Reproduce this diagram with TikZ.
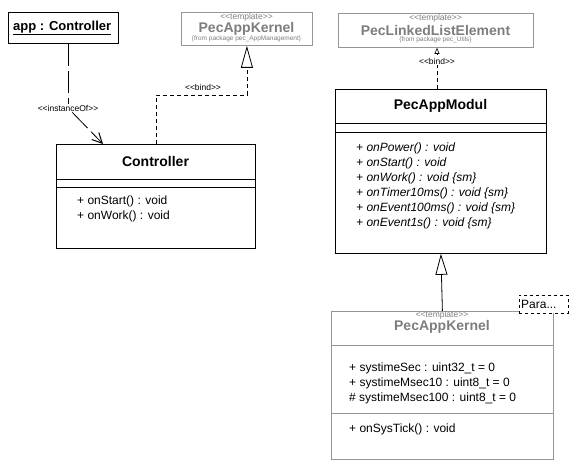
\documentclass[tikz,border=0pt]{standalone}
\usepackage{fontspec}
\setmainfont{Liberation Sans}
\usetikzlibrary{arrows.meta}
\definecolor{tplgray}{RGB}{125,125,125}
\definecolor{tplline}{RGB}{150,150,150}
\newcommand\stereotxt[1]{<{}<#1>{}>}
\tikzset{
  classbox/.style={draw,line width=0.8pt,anchor=north west,inner sep=0pt},
  tplbox/.style={classbox,draw=tplline},
  clsname/.style={inner sep=0pt,font=\fontsize{14}{16}\selectfont\bfseries},
  stereo/.style={inner sep=0pt,text=tplgray,font=\fontsize{8.5}{10}\selectfont},
  frompkg/.style={inner sep=0pt,text=tplgray,font=\fontsize{6.5}{8}\selectfont},
  member/.style={anchor=base west,inner sep=0pt,font=\fontsize{12}{14}\selectfont},
  conlabel/.style={inner sep=1pt,fill=white,font=\fontsize{8.5}{10}\selectfont},
  bindline/.style={line width=0.8pt,dash pattern=on 4pt off 3pt},
  instline/.style={line width=0.8pt,dash pattern=on 22pt off 5pt},
}
\begin{document}
\begin{tikzpicture}[x=1pt,y=-1pt]
  \useasboundingbox (0,0) rectangle (576,470);

  % object app
  \node[classbox,minimum width=110,minimum height=31] (app) at (8,12) {};
  \node[clsname,anchor=west,font=\fontsize{13}{15}\selectfont\bfseries] (appname) at (13,28) {\underline{app : Controller}};

  % template PecAppKernel (top)
  \node[tplbox,minimum width=131,minimum height=33] (topk) at (181,12) {};
  \node[stereo] (topkst) at (246.5,17) {\stereotxt{template}};
  \node[clsname,text=tplgray] (topkname) at (246.5,29) {PecAppKernel};
  \node[frompkg] (topkpkg) at (246.5,39) {\{from package pec\_AppManagement\}};

  % template PecLinkedListElement
  \node[tplbox,minimum width=195,minimum height=34] (llist) at (338,13) {};
  \node[stereo] (llistst) at (435.5,18) {\stereotxt{template}};
  \node[clsname,text=tplgray] (llistname) at (435.5,30) {PecLinkedListElement};
  \node[frompkg] (llistpkg) at (435.5,40) {\{from package pec\_Utils\}};

  % class Controller
  \node[classbox,minimum width=199,minimum height=104] (ctrl) at (56,144) {};
  \node[clsname] (ctrlname) at (155.5,161) {Controller};
  \draw[line width=0.8pt] (ctrl.west |- 0,179) -- (ctrl.east |- 0,179);
  \draw[line width=0.8pt] (ctrl.west |- 0,187) -- (ctrl.east |- 0,187);
  \foreach[count=\i,evaluate={190+15*\i} as \y] \m in {+ onStart() : void,+ onWork() : void} {
    \node[member] (ctrlop\i) at (77,\y) {\m};
  }

  % class PecAppModul
  \node[classbox,minimum width=211,minimum height=164] (modul) at (335,89) {};
  \node[clsname] (modulname) at (440.5,106) {PecAppModul};
  \draw[line width=0.8pt] (modul.west |- 0,123) -- (modul.east |- 0,123);
  \draw[line width=0.8pt] (modul.west |- 0,132) -- (modul.east |- 0,132);
  \foreach[count=\i,evaluate={137+15*\i} as \y] \m in {+ onPower() : void,+ onStart() : void,
      + onWork() : void \{sm\},+ onTimer10ms() : void \{sm\},
      + onEvent100ms() : void \{sm\},+ onEvent1s() : void \{sm\}} {
    \node[member,font=\fontsize{12}{14}\selectfont\itshape] (modulop\i) at (356,\y) {\m};
  }

  % template PecAppKernel (bottom)
  \node[tplbox,minimum width=222,minimum height=148] (kern) at (331,311) {};
  \node[stereo] (kernst) at (442,315) {\stereotxt{template}};
  \node[clsname,text=tplgray] (kernname) at (442,327) {PecAppKernel};
  \draw[line width=0.8pt,tplline] (kern.west |- 0,345) -- (kern.east |- 0,345);
  \draw[line width=0.8pt,tplline] (kern.west |- 0,413) -- (kern.east |- 0,413);
  \foreach[count=\i,evaluate={357+15*\i} as \y] \m in {+ systimeSec : uint32\_t = 0,
      + systimeMsec10 : uint8\_t = 0,\# systimeMsec100 : uint8\_t = 0} {
    \node[member] (kernattr\i) at (349,\y) {\m};
  }
  \node[member] (kernop1) at (349,432) {+ onSysTick() : void};
  \node[classbox,dashed,fill=white,minimum width=49,minimum height=18] (para) at (519,295) {};
  \node[member,anchor=west] (paratext) at (521,304) {Para...};

  % instanceOf
  \coordinate (ctrlin) at (103,144);
  \node[conlabel] (instlbl) at (68,108) {\stereotxt{instanceOf}};
  \draw[instline] (app.south -| instlbl) -- (instlbl);
  \draw[instline,-{Straight Barb[length=10pt,width=10pt,line width=1pt]}] (instlbl) -- (ctrlin);

  % bind to PecAppKernel
  \draw[bindline,-{Triangle[open,length=22pt,width=12pt,line width=0.8pt]}] (ctrl.north) -- ++(0,-49) -| (topk.south);
  \node[conlabel,fill=none] (bindlbl1) at (203,87) {\stereotxt{bind}};

  % bind to PecLinkedListElement
  \draw[bindline,-{Triangle[open,length=6pt,width=5pt,line width=0.6pt]}] (modul.north -| 437,0) -- (llist.south -| 437,0);
  \node[conlabel] (bindlbl2) at (437,61) {\stereotxt{bind}};

  % generalization
  \draw[line width=0.8pt,-{Triangle[open,length=21pt,width=12pt,line width=0.8pt]}] (kern.north) -- (modul.south);
\end{tikzpicture}
\end{document}
